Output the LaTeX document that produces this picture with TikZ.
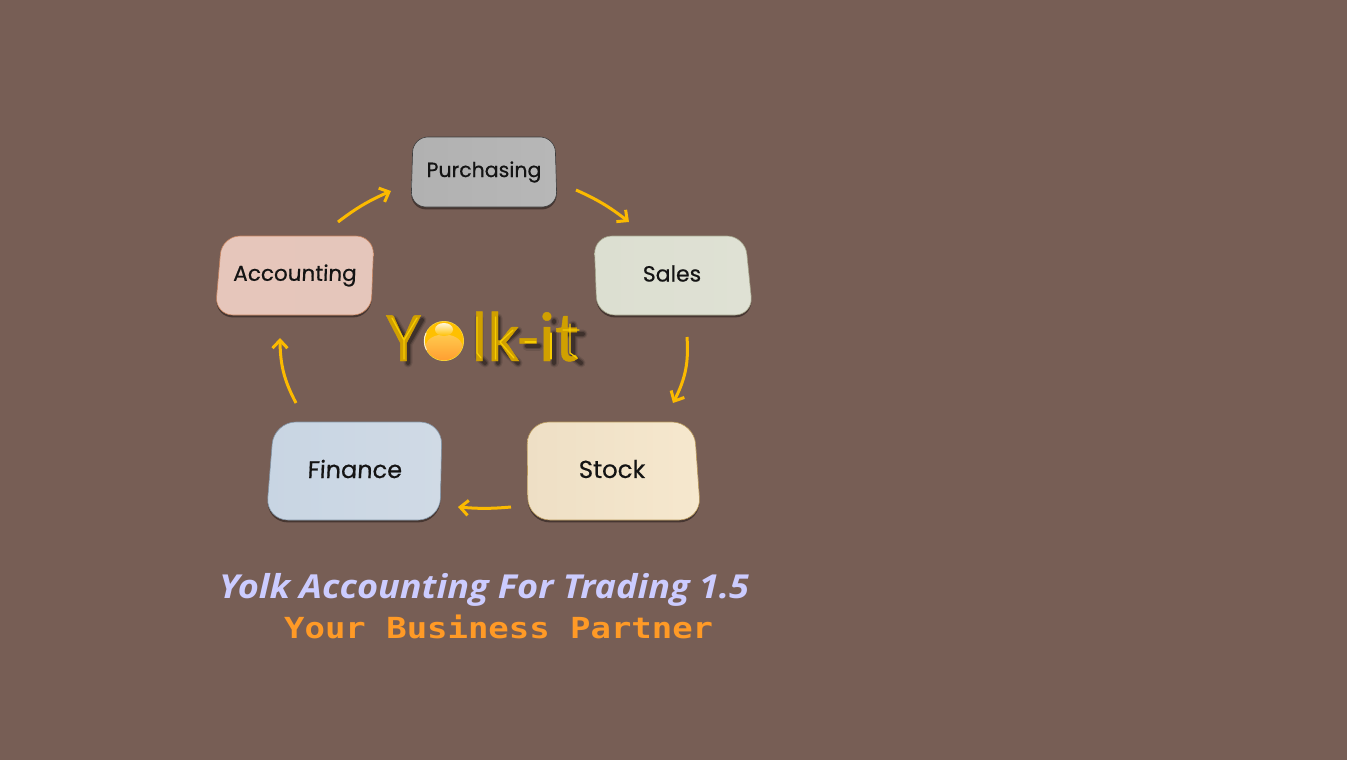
\documentclass[tikz,border=0pt]{standalone}
\usepackage{fontspec}
\usetikzlibrary{arrows.meta,bending}
\setmainfont{Poppins}[FakeBold=0.5]
\newfontfamily\logofont{Carlito}[FakeBold=0.6]
\newfontfamily\tagfont{Open Sans}[FakeStretch=1.094]
\newfontfamily\monofont{DejaVu Sans Mono}[FakeStretch=1.17]
\definecolor{bgbrown}{HTML}{775E55}
\definecolor{arrowgold}{HTML}{FBBA00}
\definecolor{logogold}{HTML}{D0A000}
\definecolor{logolight}{HTML}{F6CC00}
\definecolor{yolkdeep}{HTML}{FFC000}
\definecolor{yolkpale}{HTML}{FFCF50}
\definecolor{yolkorange}{HTML}{FF9C30}
\definecolor{tagblue}{HTML}{CCCCFF}
\definecolor{tagorange}{HTML}{FF9A26}
\definecolor{cardshadow}{HTML}{463631}
\definecolor{purL}{HTML}{B1B1B1}\definecolor{purR}{HTML}{B7B7B7}\definecolor{purE}{HTML}{3E3E3E}
\definecolor{accL}{HTML}{E6C6BB}\definecolor{accR}{HTML}{E5C6BB}\definecolor{accE}{HTML}{C8845F}
\definecolor{salL}{HTML}{DCDFD1}\definecolor{salR}{HTML}{DFE1D4}\definecolor{salE}{HTML}{A5A58C}
\definecolor{finL}{HTML}{C8D5E3}\definecolor{finR}{HTML}{D0DAE5}\definecolor{finE}{HTML}{8597A8}
\definecolor{stoL}{HTML}{EEDFC5}\definecolor{stoR}{HTML}{F6E8CE}\definecolor{stoE}{HTML}{B8985A}
\tikzset{
  flow/.style={draw=arrowgold,line width=3pt,-{Straight Barb[length=8pt,width=15pt,line width=3pt,flex]}},
  cardlabel/.style={text=black!92,inner sep=0pt,anchor=center},
  logotext/.style={text=logogold,inner sep=0pt,anchor=base west,font=\logofont\fontsize{71}{71}\selectfont},
  logoshade/.style={draw=black,line cap=round,line join=round},
  logoshine/.style={draw=logolight,line width=1.3pt,line cap=round,line join=round},
}
\newcommand{\cardshape}[8]{% radius, tl, tr, br, bl, colour left, colour right, edge
  \fill[cardshadow,rounded corners=#1pt,yshift=-2.4pt] #2 -- #3 -- #4 -- #5 -- cycle;
  \draw[draw=#8,line width=.6pt,left color=#6,right color=#7,rounded corners=#1pt] #2 -- #3 -- #4 -- #5 -- cycle;
}
\begin{document}
\begin{tikzpicture}[x=1pt,y=-1pt]
\useasboundingbox (0,0) rectangle (1347,760);
\fill[bgbrown] (0,0) rectangle (1347,760);

% cards
\cardshape{15}{(413,137)}{(555,137)}{(557,207)}{(411,207)}{purL}{purR}{purE}
\cardshape{18}{(222,236)}{(374,236)}{(371,315)}{(215,315)}{accL}{accR}{accE}
\cardshape{18}{(594,236)}{(745,236)}{(753,315)}{(597,315)}{salL}{salR}{salE}
\cardshape{22}{(274,422)}{(442,422)}{(440,520)}{(266,520)}{finL}{finR}{finE}
\cardshape{22}{(527,422)}{(694,422)}{(701,520)}{(528,520)}{stoL}{stoR}{stoE}

\node[cardlabel,font=\fontsize{20.5}{20.5}\selectfont] (purchasing) at (484,172) {Purchasing};
\node[cardlabel,xslant=.04,transform shape,font=\fontsize{21.5}{21.5}\selectfont] (accounting) at (295,275.5) {Accounting};
\node[cardlabel,font=\fontsize{22}{22}\selectfont] (sales) at (672,273.5) {Sales};
\node[cardlabel,xslant=.05,transform shape,font=\fontsize{24}{24}\selectfont] (finance) at (355,469) {Finance};
\node[cardlabel,font=\fontsize{24.5}{24.5}\selectfont] (stock) at (612,469) {Stock};

% connector ends
\coordinate (apS) at (338,222); \coordinate (apE) at (391,191);
\coordinate (psS) at (576,190); \coordinate (psE) at (629,222);
\coordinate (ssS) at (687,337); \coordinate (ssE) at (673,403);
\coordinate (sfS) at (511,507); \coordinate (sfE) at (458,507);
\coordinate (faS) at (296,403); \coordinate (faE) at (280,338);
\draw[flow] (apS) to[bend left=7] (apE);
\draw[flow] (psS) to[bend left=7] (psE);
\draw[flow] (ssS) to[bend left=16] (ssE);
\draw[flow] (sfS) to[bend left=5] (sfE);
\draw[flow] (faS) to[bend left=14] (faE);

% logo: soft shadow under the letters
\foreach \w/\o in {9/.1,6.5/.18,4/.28}{
  \begin{scope}[xshift=3pt,yshift=-3pt]
  \draw[logoshade,line width=\w pt,opacity=\o] (391,317) -- (405,341) -- (405,360) (405,341) -- (419,317);
  \draw[logoshade,line width=\w pt,opacity=\o] (476,315) -- (476,354) -- (482,360);
  \draw[logoshade,line width=\w pt,opacity=\o] (495,315) -- (495,360) (515,328) -- (497,343) -- (515,360);
  \draw[logoshade,line width=\w pt,opacity=\o] (524,343) -- (536,343);
  \draw[logoshade,line width=\w pt,opacity=\o] (551,331) -- (551,360) (551,318) -- (551,319);
  \draw[logoshade,line width=\w pt,opacity=\o] (570,322) -- (570,354) -- (578,360) (562,331) -- (580,331);
  \end{scope}
}
\node[logotext] (logoY) at (386,361) {Y};
\node[logotext] (logoRest) at (471,361) {lk-it};
% bevel highlights inside the letters
\draw[logoshine] (392,318) -- (404,340) -- (404,359) (404,340) -- (417,318);
\draw[logoshine] (477,317) -- (477,353) -- (481,358);
\draw[logoshine] (495.5,317) -- (495.5,359) (513,330) -- (500,342) -- (514,358);
\draw[logoshine] (525,342) -- (536,342);
\draw[logoshine] (551,333) -- (551,359);
\draw[logoshine] (570,324) -- (570,353) -- (577,358) (563,330) -- (579,330);
% egg-yolk ball
\fill[logolight!70!white] (444,341) circle (20);
\fill[yolkdeep] (444,341) circle (19.4);
\shade[top color=yolkpale,bottom color=yolkorange] (425.3,345) arc[start angle=168,end angle=12,radius=19.1] .. controls (458,331) and (430,331) .. cycle;
\shade[top color=white!85!yolkdeep,bottom color=yolkdeep] (444,329.5) ellipse (9 and 6.5);
\draw[white,opacity=.75,line width=1pt] (426.5,350) arc[start angle=152,end angle=205,radius=19];

% tagline
\node[text=tagblue,inner sep=0pt,anchor=base west,font=\tagfont\itshape\bfseries\fontsize{33}{33}\selectfont] (title) at (219,598) {Yolk Accounting For Trading 1.5};
\node[text=tagorange,inner sep=0pt,anchor=base west,font=\monofont\bfseries\fontsize{29}{29}\selectfont] (subtitle) at (284,638) {Your Business Partner};
\end{tikzpicture}
\end{document}
